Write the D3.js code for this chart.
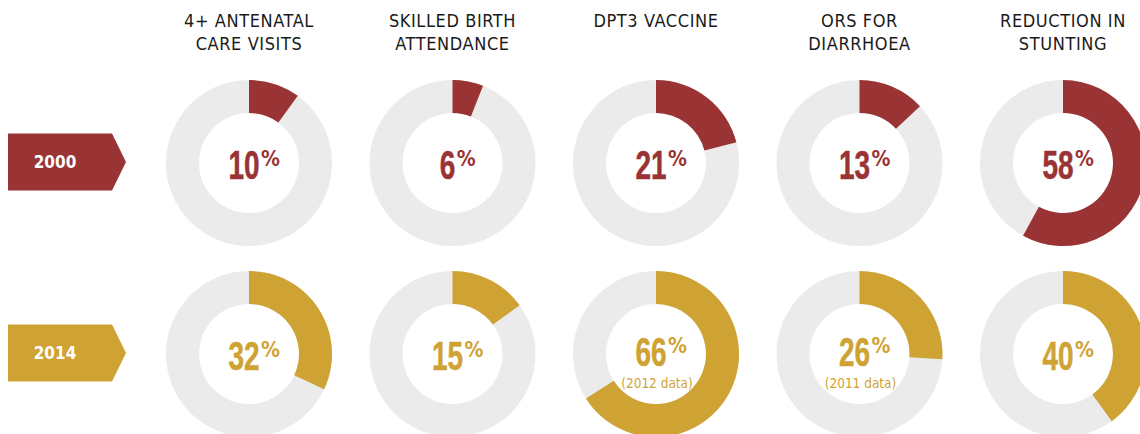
<!DOCTYPE html>
<html>
<head>
<meta charset="utf-8">
<script src="https://cdn.jsdelivr.net/npm/d3@7"></script>
<style>
  body { margin: 0; background: #fff; }
  svg { display: block; }
  text { font-family: "DejaVu Sans Condensed", "Liberation Sans Narrow", sans-serif; }
  .num { font-family: "Liberation Sans", Arial, sans-serif; }
</style>
</head>
<body>
<svg width="1140" height="434"></svg>
<script>
const indicators = [
  ["4+ ANTENATAL", "CARE VISITS"],
  ["SKILLED BIRTH", "ATTENDANCE"],
  ["DPT3 VACCINE"],
  ["ORS FOR", "DIARRHOEA"],
  ["REDUCTION IN", "STUNTING"]
];
const years = ["2000", "2014"];
const values2000 = [10, 6, 21, 13, 58];
const values2014 = [32, 15, 66, 26, 40];
const notes2014 = [null, null, "(2012 data)", "(2011 data)", null];

const svg = d3.select("svg");
const colors = { "2000": "#993334", "2014": "#cfa333" };
const rows = [
  { year: "2000", values: values2000, notes: [null, null, null, null, null] },
  { year: "2014", values: values2014, notes: notes2014 }
];

const x = d3.scalePoint().domain(d3.range(indicators.length)).range([249, 1063]);
const y = d3.scalePoint().domain(years).range([163, 354]);
const angle = d3.scaleLinear().domain([0, 100]).range([0, 2 * Math.PI]);

const outerR = 83;
const innerR = 50;
const arc = d3.arc().innerRadius(innerR).outerRadius(outerR);
const squeeze = 0.7;

// column headers
indicators.forEach((lines, i) => {
  const t = svg.append("text")
    .attr("x", x(i))
    .attr("text-anchor", "middle")
    .attr("fill", "#1a1a1a")
    .style("font-size", "18px")
    .style("letter-spacing", "0.6px");
  lines.forEach((l, j) => {
    t.append("tspan").attr("x", x(i)).attr("y", 27 + j * 23).text(l);
  });
});

// year tags
rows.forEach((r) => {
  const cy = y(r.year) - 1;
  svg.append("path")
    .attr("d", `M8,${cy - 28.5}L112,${cy - 28.5}L126,${cy}L112,${cy + 28.5}L8,${cy + 28.5}Z`)
    .attr("fill", colors[r.year]);
  svg.append("text")
    .attr("x", 55)
    .attr("y", cy + 6)
    .attr("text-anchor", "middle")
    .attr("fill", "#fff")
    .style("font-size", "17px")
    .style("font-weight", "bold")
    .text(r.year);
});

// donuts
rows.forEach((r) => {
  const g = svg.append("g").attr("class", "row-" + r.year);
  const cell = g.selectAll("g")
    .data(r.values.map((v, i) => ({ v, i, note: r.notes[i] })))
    .join("g")
    .attr("transform", (d) => `translate(${x(d.i)},${y(r.year)})`);

  cell.append("path")
    .attr("d", arc({ startAngle: 0, endAngle: 2 * Math.PI }))
    .attr("fill", "#ebebeb");

  cell.append("path")
    .attr("d", (d) => arc({ startAngle: 0, endAngle: angle(d.v) }))
    .attr("fill", colors[r.year]);

  cell.each(function (d) {
    const c = d3.select(this);
    const base = d.note ? 12 : 16;
    const num = c.append("text")
      .attr("class", "num")
      .attr("fill", colors[r.year])
      .attr("stroke", colors[r.year])
      .attr("stroke-width", 0.5)
      .style("font-weight", "bold")
      .style("font-size", "40px")
      .text(d.v);
    const pct = c.append("text")
      .attr("fill", colors[r.year])
      .style("font-weight", "bold")
      .style("font-size", "21px")
      .text("%");
    const nw = num.node().getComputedTextLength() * squeeze;
    const pw = pct.node().getComputedTextLength();
    const left = 5 - (nw + 1 + pw) / 2;
    num.attr("transform", `translate(${left},${base}) scale(${squeeze},1)`);
    pct.attr("x", left + nw + 1.5).attr("y", base - 13);
  });

  cell.filter((d) => d.note)
    .append("text")
    .attr("text-anchor", "middle")
    .attr("x", 1)
    .attr("y", 34)
    .attr("fill", colors[r.year])
    .style("font-size", "13.5px")
    .text((d) => d.note);
});
</script>
</body>
</html>
